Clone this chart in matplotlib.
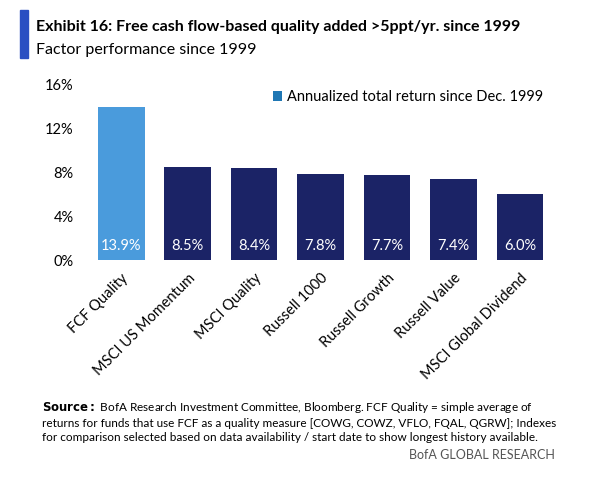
import matplotlib.pyplot as plt
import numpy as np

plt.rcParams['font.family'] = ['Lato', 'DejaVu Sans']

categories = ['FCF Quality', 'MSCI US Momentum', 'MSCI Quality', 'Russell 1000',
              'Russell Growth', 'Russell Value', 'MSCI Global Dividend']
values = [13.9, 8.5, 8.4, 7.8, 7.7, 7.4, 6.0]
yticks = [0, 4, 8, 12, 16]

navy = '#1B2366'
light = '#4A9BDC'
colors = [light] + [navy] * (len(values) - 1)

fig = plt.figure(figsize=(6.05, 4.92), dpi=100)
ax = fig.add_axes([0.14, 0.4715, 0.78, 0.3575])
x = np.arange(len(categories))
ax.bar(x, values, width=0.7, color=colors)
for xi, v in zip(x, values):
    ax.text(xi, 1.3, f'{v:.1f}%', ha='center', va='center', color='white', fontsize=10.5)

ax.set_xlim(-0.55, len(categories) - 0.45)
ax.set_ylim(0, 16)
ax.set_yticks(yticks)
ax.set_yticklabels([f'{t}%' for t in yticks], fontsize=10.5)
ax.set_xticks(x)
ax.set_xticklabels(categories, rotation=45, ha='right', rotation_mode='anchor', fontsize=10.5)
ax.tick_params(length=0, pad=8)
for s in ax.spines.values():
    s.set_visible(False)

ax.bar([], [], color=navy, label='Annualized total return since Dec. 1999')
ax.legend(loc='upper right', bbox_to_anchor=(1.0, 1.04), frameon=False, fontsize=10.5,
          handlelength=0.6, handleheight=0.6, handletextpad=0.4)

fig.patches.append(plt.Rectangle((20 / 605, 1 - 58 / 492), 8 / 605, 48 / 492,
                                 transform=fig.transFigure, color='#2A4FC2'))
fig.text(36 / 605, 1 - 27 / 492, 'Exhibit 16: Free cash flow-based quality added >5ppt/yr. since 1999',
         fontsize=11.5, fontweight='bold', va='center')
fig.text(36 / 605, 1 - 50 / 492, 'Factor performance since 1999', fontsize=11.5, va='center')

fig.text(42 / 605, 1 - 400 / 492,
         r'$\bf{Source:}$ BofA Research Investment Committee, Bloomberg. FCF Quality = simple average of'
         '\nreturns for funds that use FCF as a quality measure [COWG, COWZ, VFLO, FQAL, QGRW]; Indexes'
         '\nfor comparison selected based on data availability / start date to show longest history available.',
         fontsize=8.5, va='top', linespacing=1.35)
fig.text(555 / 605, 1 - 455 / 492, 'BofA GLOBAL RESEARCH', fontsize=9, ha='right', va='center', color='#555555')

fig.savefig('out.png', dpi=100)
